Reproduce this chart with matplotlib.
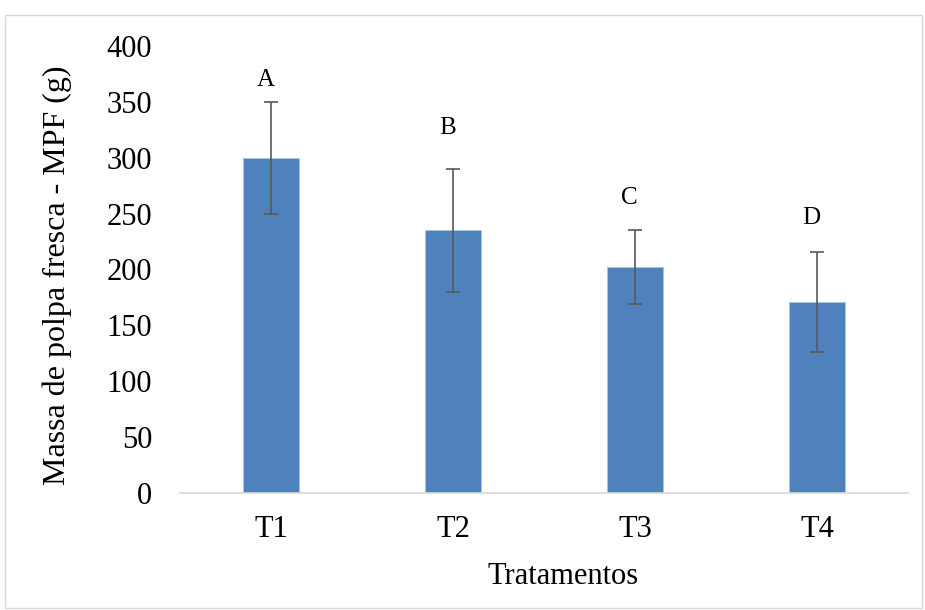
import numpy as np
import matplotlib.pyplot as plt
from matplotlib.patches import Rectangle

plt.rcParams['font.family'] = ['Liberation Serif', 'DejaVu Serif']

# dados
tratamentos = ["T1", "T2", "T3", "T4"]
mpf = [300, 235, 202, 171]
erro = [50, 55, 33, 45]
letras = ["A", "B", "C", "D"]
letras_y = [370, 327, 264, 246]

fig = plt.figure(figsize=(9.25, 6.1), dpi=100)
ax = fig.add_axes([0.1946, 0.1918, 0.787, 0.7328])

x = np.arange(len(tratamentos))
ax.bar(x, mpf, width=0.31, color='#4F81BD', edgecolor='#a9c4e6', linewidth=0.6, zorder=2)
ax.errorbar(x, mpf, yerr=erro, fmt='none', ecolor='#595959', elinewidth=1.2,
            capsize=4.7, capthick=1.2, zorder=3)

for xi, l, ly in zip(x, letras, letras_y):
    ax.text(xi - 0.03, ly, l, ha='center', va='center', fontsize=18)

ax.set_xlim(-0.5, 3.5)
ax.set_ylim(0, 400)
ax.set_yticks(range(0, 401, 50))
ax.set_xticks(x)
ax.set_xticklabels(tratamentos)
ax.tick_params(axis='both', length=0, labelsize=22)
ax.tick_params(axis='y', pad=20)
ax.tick_params(axis='x', pad=16)

for s in ['top', 'right', 'left']:
    ax.spines[s].set_visible(False)
ax.spines['bottom'].set_color('#d9d9d9')
ax.spines['bottom'].set_linewidth(1.2)

ax.set_xlabel("Tratamentos", fontsize=22)
ax.xaxis.set_label_coords(0.526, -0.155)
ax.set_ylabel("Massa de polpa fresca - MPF (g)", fontsize=23, va='center')
ax.yaxis.set_label_coords(-0.169, 0.488)

# moldura do gráfico
fig.patches.append(Rectangle((5/925, 1 - 608/610), 917/925, 593/610, transform=fig.transFigure,
                             fill=False, edgecolor='#d9d9d9', linewidth=1))

fig.savefig("out.png", dpi=100)
